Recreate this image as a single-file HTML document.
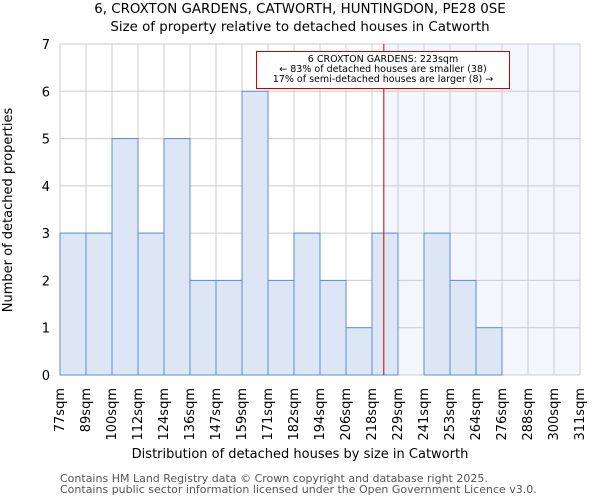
<!DOCTYPE html>
<html><head><meta charset="utf-8"><style>
body{margin:0;background:#fff;font-family:"DejaVu Sans","Liberation Sans",sans-serif;}
</style></head><body>
<svg id="c" width="600" height="500" xmlns="http://www.w3.org/2000/svg" font-family="DejaVu Sans, Liberation Sans, sans-serif">
<text x="300" y="13" text-anchor="middle" font-size="13.4" fill="#000">6, CROXTON GARDENS, CATWORTH, HUNTINGDON, PE28 0SE</text>
<text x="300" y="31" text-anchor="middle" font-size="13.4" fill="#000">Size of property relative to detached houses in Catworth</text>
<g id="plot"></g>
<text x="300" y="458" text-anchor="middle" font-size="13">Distribution of detached houses by size in Catworth</text>
<text transform="translate(12,210) rotate(-90)" text-anchor="middle" font-size="13">Number of detached properties</text>
<text x="60" y="482" font-size="11" fill="#555">Contains HM Land Registry data © Crown copyright and database right 2025.</text>
<text x="60" y="493" font-size="11" fill="#555">Contains public sector information licensed under the Open Government Licence v3.0.</text>
</svg>
<script>
const labels=["77sqm","89sqm","100sqm","112sqm","124sqm","136sqm","147sqm","159sqm","171sqm","182sqm","194sqm","206sqm","218sqm","229sqm","241sqm","253sqm","264sqm","276sqm","288sqm","300sqm","311sqm"];
const counts=[3,3,5,3,5,2,2,6,2,3,2,1,3,0,3,2,1,0,0,0];
const yTicks=[0,1,2,3,4,5,6,7];
const markerBin=12+5/11;
const L=60,R=580,T=44,B=375,yMax=7;
const NS="http://www.w3.org/2000/svg";
const g=document.getElementById('plot');
const bw=(R-L)/counts.length;
const xs=i=>L+i*bw;
const ys=v=>B-(v/yMax)*(B-T);
function mk(t,a,p){const e=document.createElementNS(NS,t);for(const k in a)e.setAttribute(k,a[k]);(p||g).appendChild(e);return e;}
const mx=xs(markerBin);
let e=mk('rect',{x:mx,y:T,width:R-mx,height:B-T,fill:'#f3f6fd'});


for(let i=0;i<=counts.length;i++){mk('line',{x1:xs(i),x2:xs(i),y1:T,y2:B,stroke:'#cccccc','stroke-width':1});}
yTicks.forEach(v=>{mk('line',{x1:L,x2:R,y1:ys(v),y2:ys(v),stroke:'#cccccc','stroke-width':1});
 const t=mk('text',{x:L-10,y:ys(v)+5,'text-anchor':'end','font-size':13});t.textContent=v;
 
 });
counts.forEach((c,i)=>{if(c<=0)return;
 const r=mk('rect',{x:xs(i),y:ys(c),width:bw,height:B-ys(c),fill:'#dce6f4',stroke:'#5b8fd6','stroke-width':1});
 
 });
labels.forEach((l,i)=>{const x=xs(i)+4;
 const t=mk('text',{transform:`translate(${x},388) rotate(-90)`,'text-anchor':'end','font-size':13});t.textContent=l;
 
 });
e=mk('line',{x1:mx,x2:mx,y1:T,y2:B,stroke:'#cc0000','stroke-width':1});


e=mk('rect',{x:256.5,y:51.5,width:253,height:37,fill:'#fff',stroke:'#cc0000','stroke-width':1});


["6 CROXTON GARDENS: 223sqm","← 83% of detached houses are smaller (38)","17% of semi-detached houses are larger (8) →"].forEach((s,k)=>{
 const t=mk('text',{x:383,y:62+k*10,'text-anchor':'middle','font-size':9.5});t.textContent=s;
 
 });
</script>
</body></html>
